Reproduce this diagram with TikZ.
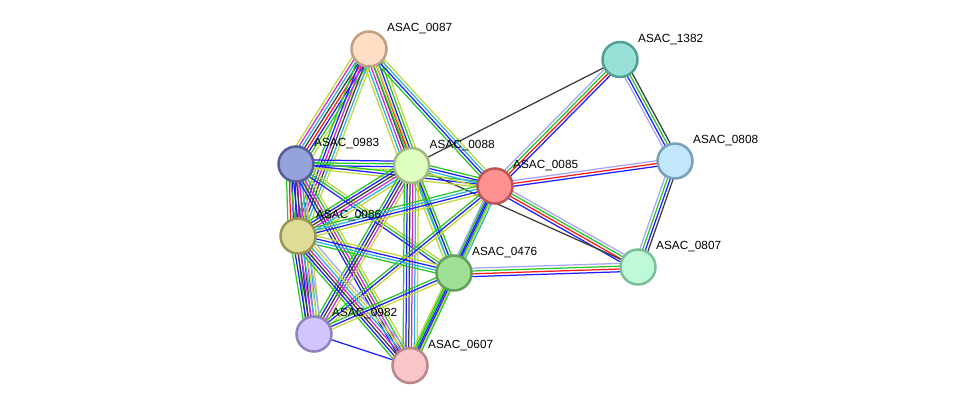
\documentclass[tikz,border=0pt]{standalone}
\usepackage{fontspec}
\setmainfont{Liberation Sans}
\usetikzlibrary{calc}
\definecolor{cN}{RGB}{40,200,40}
\definecolor{cF}{RGB}{255,25,25}
\definecolor{cB}{RGB}{30,30,255}
\definecolor{cK}{RGB}{60,60,60}
\definecolor{cM}{RGB}{210,40,210}
\definecolor{cC}{RGB}{40,180,220}
\definecolor{cY}{RGB}{195,215,60}
\definecolor{cH}{RGB}{165,165,250}
\definecolor{f0087}{RGB}{254,222,196}\definecolor{d0087}{RGB}{192,160,128}
\definecolor{f1382}{RGB}{152,224,216}\definecolor{d1382}{RGB}{80,160,150}
\definecolor{f0808}{RGB}{194,230,250}\definecolor{d0808}{RGB}{120,160,185}
\definecolor{f0983}{RGB}{150,162,220}\definecolor{d0983}{RGB}{85,95,150}
\definecolor{f0088}{RGB}{223,255,192}\definecolor{d0088}{RGB}{160,185,130}
\definecolor{f0085}{RGB}{255,145,145}\definecolor{d0085}{RGB}{190,85,85}
\definecolor{f0086}{RGB}{222,220,150}\definecolor{d0086}{RGB}{155,150,85}
\definecolor{f0476}{RGB}{160,224,150}\definecolor{d0476}{RGB}{95,160,90}
\definecolor{f0807}{RGB}{190,250,218}\definecolor{d0807}{RGB}{125,190,155}
\definecolor{f0982}{RGB}{210,196,255}\definecolor{d0982}{RGB}{145,130,190}
\definecolor{f0607}{RGB}{248,198,198}\definecolor{d0607}{RGB}{185,135,135}
\pgfdeclarelayer{back}
\pgfdeclarelayer{bg}
\pgfsetlayers{back,bg,main}
\tikzset{
  prot/.style={circle, minimum size=35pt, inner sep=0pt, line width=2.5pt},
  plabel/.style={anchor=base west, inner sep=0pt, font=\fontsize{11.8}{12}\selectfont, text=black},
  edge/.style={line width=1.25pt}
}
\newcommand\sedge[3]{%
  \foreach \c [count=\i] in {#3}{\xdef\nlines{\i}}%
  \foreach \c [count=\i] in {#3}{%
    \pgfmathsetmacro\off{(\i-(\nlines+1)/2)*2.8}%
    \draw[edge,\c] ($(#1)!\off pt!90:(#2)$) -- ($(#2)!\off pt!-90:(#1)$);}}
\newcommand\prot[3]{% name, x, y
  \node[prot, fill=f#1, draw=d#1] (#1) at (#2,#3) {};
  \node[plabel] (l#1) at ($(#1)+(18,-17)$) {ASAC\_#1};}
\begin{document}
\begin{tikzpicture}[x=1pt,y=-1pt]
\begin{pgfonlayer}{back}
\fill[white] (0,0) rectangle (975,411);
\end{pgfonlayer}
\useasboundingbox (0,0) rectangle (975,411);
\prot{0087}{369}{49}
\prot{1382}{620}{59.5}
\prot{0808}{675}{161}
\prot{0983}{296}{164}
\prot{0088}{411.5}{165.5}
\prot{0085}{495}{186}
\prot{0086}{298}{236}
\prot{0476}{454}{273}
\prot{0807}{638}{267}
\prot{0982}{314}{334}
\prot{0607}{410}{365.5}
\begin{pgfonlayer}{bg}
% outer right group
\sedge{1382}{0085}{cH,cN,cF,cB}
\sedge{1382}{0808}{cH,cB,cN,cK}
\sedge{0088}{1382}{cK}
\sedge{0808}{0085}{cH,cF,cB}
\sedge{0808}{0807}{cH,cN,cB,cK}
\sedge{0807}{0085}{cH,cN,cF,cB}
\sedge{0088}{0807}{cK}
\sedge{0807}{0476}{cH,cN,cF,cB}
% dense cluster
\sedge{0087}{0983}{cY,cM,cC,cK,cF,cB,cN,cY}
\sedge{0087}{0088}{cY,cC,cM,cK,cF,cB,cN,cY}
\sedge{0087}{0085}{cN,cB,cC,cY}
\sedge{0087}{0086}{cN,cB,cM,cK,cC,cY}
\sedge{0087}{0476}{cN,cY}
\sedge{0983}{0088}{cY,cB,cN,cB}
\sedge{0983}{0085}{cY,cB,cN}
\sedge{0983}{0086}{cN,cF,cB,cK,cM,cC,cY,cH}
\sedge{0983}{0982}{cN,cB,cK,cM,cC,cY}
\sedge{0983}{0607}{cB,cK,cM,cN,cY}
\sedge{0983}{0476}{cB,cN,cY}
\sedge{0088}{0085}{cY,cC,cB,cN}
\sedge{0088}{0086}{cN,cB,cK,cM,cC,cY}
\sedge{0088}{0476}{cY,cC,cB,cN}
\sedge{0088}{0982}{cN,cB,cK,cM,cY}
\sedge{0088}{0607}{cN,cB,cK,cM,cC,cY}
\sedge{0085}{0086}{cN,cC,cB,cY}
\sedge{0085}{0476}{cH,cB,cN,cC}
\sedge{0085}{0982}{cN,cB,cY}
\sedge{0085}{0607}{cN,cB,cY}
\sedge{0086}{0476}{cN,cC,cB,cY}
\sedge{0086}{0982}{cN,cB,cK,cM,cC,cY,cH}
\sedge{0086}{0607}{cN,cB,cK,cM,cC,cY,cH}
\sedge{0476}{0982}{cN,cB,cY}
\sedge{0476}{0607}{cY,cN,cB,cN}
\sedge{0982}{0607}{cB}
\end{pgfonlayer}
\end{tikzpicture}
\end{document}
